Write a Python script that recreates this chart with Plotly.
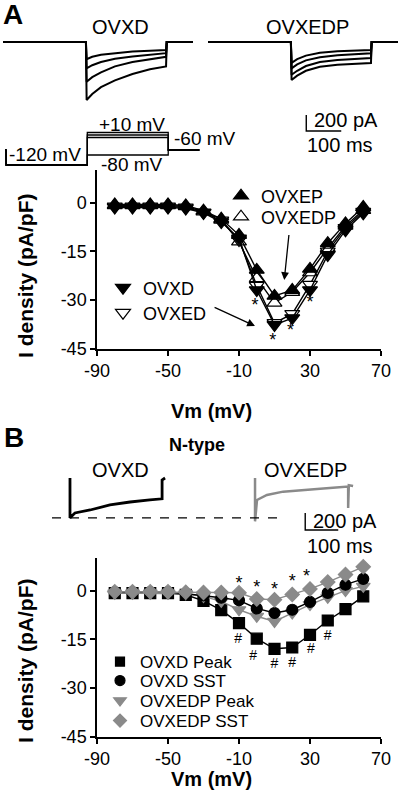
import plotly.graph_objects as go

W, H = 400, 799


def px(x):
    return x / W


def py(y):
    return 1 - y / H


FONT = "Liberation Sans, Arial, Helvetica, sans-serif"
GRAY = "#8a8a8a"

# ---------------- data ----------------
vm = [-80, -70, -60, -50, -40, -30, -20, -10, 0, 10, 20, 30, 40, 50, 60]
x_ticks = [-90, -50, -10, 30, 70]
x_tick_labels = ["-90", "-50", "-10", "30", "70"]
y_ticks = [0, -15, -30, -45]
y_tick_labels = ["0", "-15", "-30", "-45"]

# Panel A (pA/pF)
a_ovxd = [-1.5, -1.5, -1.5, -1.5, -1.8, -3.2, -6.0, -11.0, -26.9, -37.6, -35.5, -26.9, -16.1, -8.5, -3.3]
a_ovxed = [-1.2, -1.2, -1.2, -1.2, -1.5, -3.0, -5.5, -11.5, -25.5, -37.0, -34.2, -25.2, -15.0, -7.8, -2.8]
a_ovxep = [-0.6, -0.6, -0.6, -0.6, -0.9, -2.5, -5.0, -10.0, -20.7, -28.7, -26.9, -20.4, -12.5, -6.4, -1.4]
a_ovxedp = [-0.9, -0.9, -0.9, -0.9, -1.2, -2.8, -5.3, -12.0, -23.3, -30.8, -27.5, -21.5, -14.0, -7.2, -2.3]
a_star_x = [-1, 9, 19, 30]
a_star_y = [-32.0, -42.7, -39.7, -31.0]

# Panel B (pA/pF)
b_ovxd_peak = [-0.8, -0.8, -0.8, -0.8, -1.3, -3.2, -6.0, -10.0, -14.8, -17.9, -17.5, -13.6, -9.2, -5.7, -1.8]
b_ovxd_sst = [-0.5, -0.5, -0.5, -0.5, -1.0, -1.5, -2.2, -3.0, -5.5, -6.9, -5.9, -3.5, -0.7, 1.8, 3.6]
b_ovxedp_peak = [-0.8, -0.8, -0.8, -0.8, -1.0, -1.8, -3.3, -5.9, -7.9, -9.5, -6.9, -4.3, -2.1, 0.0, 1.3]
b_ovxedp_sst = [-0.4, -0.4, -0.4, -0.4, -0.5, -0.6, -0.6, -0.7, -2.6, -2.8, -1.2, 0.5, 2.6, 4.9, 7.3]
b_star_x = [-10, 0, 10, 20, 28]
b_star_y = [1.8, 0.5, 0.0, 2.4, 3.9]
b_hash_x = [-10.5, -2, 10, 20, 30.5, 40]
b_hash_y = [-15.1, -20.2, -22.8, -22.3, -18.2, -14.1]

# Panel A example current traces (time in ms, current in pA)
a_t = [0, 237, 239, 255, 280, 320, 370, 420, 466, 468, 543]
a_ovxd_sweeps = [
    [0, 0, -725, -650, -565, -480, -400, -340, -305, 0, 0],
    [0, 0, -496, -440, -380, -305, -250, -215, -185, 0, 0],
    [0, 0, -330, -290, -250, -210, -180, -160, -140, 0, 0],
    [0, 0, -215, -185, -160, -140, -120, -110, -100, 0, 0],
]
a_ovxedp_sweeps = [
    [0, 0, -475, -420, -360, -310, -285, -270, -263, 0, 0],
    [0, 0, -410, -360, -300, -250, -225, -210, -200, 0, 0],
    [0, 0, -330, -280, -230, -190, -165, -150, -140, 0, 0],
    [0, 0, -260, -215, -170, -135, -115, -105, -100, 0, 0],
]

# Voltage protocol (ms, mV)
prot_t = [0, 3, 3, 235, 235, 466, 466, 555]
prot_steps = [-80, -10, 0, 10]
prot_pre, prot_hold, prot_tail = -60, -120, -60

# Panel B example N-type traces (time in ms from step onset, current in pA)
b_ovxd_t = [0, 0, 2, 15, 61, 121, 182, 242, 276, 279, 279, 288]
b_ovxd_i = [470, 0, 10, 59, 94, 153, 188, 212, 224, 226, 447, 470]
b_ovxedp_t = [0, 0, 6, 36, 85, 136, 188, 236, 282, 282, 284, 297]
b_ovxedp_i = [470, -40, 212, 271, 310, 329, 341, 357, 370, 118, 385, 376]

scale_ms = 100
scale_pA = 200

fig = go.Figure()


def add_series(xax, yax, y, symbol, fill, edge, lcolor, size, name):
    fig.add_trace(go.Scatter(
        x=vm, y=y, mode="lines+markers", xaxis=xax, yaxis=yax, showlegend=False,
        line=dict(color=lcolor, width=1.4),
        marker=dict(symbol=symbol, size=size, color=fill, line=dict(color=edge, width=1.2)),
        name=name, cliponaxis=False))


def add_key(name, legend, xax, yax, symbol, fill, edge, size):
    fig.add_trace(go.Scatter(x=[None], y=[None], mode="markers", name=name, legend=legend,
                             marker=dict(symbol=symbol, size=size, color=fill, line=dict(color=edge, width=1.2)),
                             xaxis=xax, yaxis=yax))


# ---------------- Panel A IV ----------------
add_series("x", "y", a_ovxedp, "triangle-up", "white", "black", "black", 13, "OVXEDP")
add_series("x", "y", a_ovxed, "triangle-down", "white", "black", "black", 13, "OVXED")
add_series("x", "y", a_ovxd, "triangle-down", "black", "black", "black", 13, "OVXD")
add_series("x", "y", a_ovxep, "triangle-up", "black", "black", "black", 13, "OVXEP")

fig.add_trace(go.Scatter(x=a_star_x, y=a_star_y, mode="text", text=["*"] * len(a_star_x),
                         textfont=dict(family=FONT, size=18, color="black"),
                         xaxis="x", yaxis="y", showlegend=False, cliponaxis=False))

add_key("OVXEP", "legend", "x", "y", "triangle-up", "black", "black", 13)
add_key("OVXEDP", "legend2", "x", "y", "triangle-up", "white", "black", 13)
add_key("OVXD", "legend3", "x", "y", "triangle-down", "black", "black", 13)
add_key("OVXED", "legend4", "x", "y", "triangle-down", "white", "black", 13)

# ---------------- Panel B IV ----------------
add_series("x2", "y2", b_ovxd_peak, "square", "black", "black", "black", 11, "OVXD Peak")
add_series("x2", "y2", b_ovxedp_peak, "triangle-down", GRAY, GRAY, GRAY, 12, "OVXEDP Peak")
add_series("x2", "y2", b_ovxd_sst, "circle", "black", "black", "black", 11, "OVXD SST")
add_series("x2", "y2", b_ovxedp_sst, "diamond", GRAY, GRAY, GRAY, 11, "OVXEDP SST")

fig.add_trace(go.Scatter(x=b_star_x, y=b_star_y, mode="text", text=["*"] * len(b_star_x),
                         textfont=dict(family=FONT, size=18, color="black"),
                         xaxis="x2", yaxis="y2", showlegend=False, cliponaxis=False))
fig.add_trace(go.Scatter(x=b_hash_x, y=b_hash_y, mode="text", text=["#"] * len(b_hash_x),
                         textfont=dict(family=FONT, size=14, color="black"),
                         xaxis="x2", yaxis="y2", showlegend=False, cliponaxis=False))

add_key("OVXD Peak", "legend5", "x2", "y2", "square", "black", "black", 9)
add_key("OVXD SST", "legend6", "x2", "y2", "circle", "black", "black", 10)
add_key("OVXEDP Peak", "legend7", "x2", "y2", "triangle-down", GRAY, GRAY, 11)
add_key("OVXEDP SST", "legend8", "x2", "y2", "diamond", GRAY, GRAY, 10)

# ---------------- Panel A recordings ----------------
for sw in a_ovxd_sweeps:
    fig.add_trace(go.Scatter(x=a_t, y=sw, mode="lines", xaxis="x3", yaxis="y3", showlegend=False,
                             line=dict(color="black", width=2), hoverinfo="skip"))
for sw in a_ovxedp_sweeps:
    fig.add_trace(go.Scatter(x=a_t, y=sw, mode="lines", xaxis="x4", yaxis="y3", showlegend=False,
                             line=dict(color="black", width=2), hoverinfo="skip"))
sbA_t0, sbA_i0 = 281, -1112
fig.add_trace(go.Scatter(x=[sbA_t0, sbA_t0, sbA_t0 + scale_ms], y=[sbA_i0 + scale_pA, sbA_i0, sbA_i0],
                         mode="lines", xaxis="x4", yaxis="y3", showlegend=False,
                         line=dict(color="black", width=1.4)))

# ---------------- Voltage protocol ----------------
for vs in prot_steps:
    fig.add_trace(go.Scatter(x=prot_t,
                             y=[prot_pre, prot_pre, prot_hold, prot_hold, vs, vs, prot_tail, prot_tail],
                             mode="lines", xaxis="x5", yaxis="y5", showlegend=False,
                             line=dict(color="black", width=1.3), hoverinfo="skip"))

# ---------------- Panel B recordings ----------------
fig.add_trace(go.Scatter(x=b_ovxd_t, y=b_ovxd_i, mode="lines", xaxis="x6", yaxis="y6", showlegend=False,
                         line=dict(color="black", width=2.8), hoverinfo="skip"))
fig.add_trace(go.Scatter(x=b_ovxedp_t, y=b_ovxedp_i, mode="lines", xaxis="x7", yaxis="y6", showlegend=False,
                         line=dict(color=GRAY, width=2.5), hoverinfo="skip"))
sbB_t0, sbB_i0 = 152, -141
fig.add_trace(go.Scatter(x=[sbB_t0, sbB_t0, sbB_t0 + scale_ms], y=[sbB_i0 + scale_pA, sbB_i0, sbB_i0],
                         mode="lines", xaxis="x7", yaxis="y6", showlegend=False,
                         line=dict(color="black", width=1.4)))

# ---------------- layout ----------------
axis_common = dict(showline=True, linecolor="black", linewidth=1.5, ticks="outside", ticklen=5,
                   tickwidth=1.5, tickcolor="black", showgrid=False, zeroline=False, automargin=False,
                   tickfont=dict(family=FONT, size=18, color="black"), fixedrange=True)
hidden = dict(visible=False, showgrid=False, zeroline=False, fixedrange=True, automargin=False)


def key_legend(text_left, center_y, size):
    return dict(x=px(text_left - 42), y=py(center_y), xanchor="left", yanchor="middle",
                bgcolor="rgba(0,0,0,0)", borderwidth=0,
                font=dict(family=FONT, size=size, color="black"), itemclick=False)


xdom = [px(97), px(381)]
fig.update_layout(
    template="none",
    width=W, height=H, margin=dict(l=0, r=0, t=0, b=0, autoexpand=False),
    paper_bgcolor="white", plot_bgcolor="rgba(0,0,0,0)",
    font=dict(family=FONT, color="black"),
    xaxis=dict(domain=xdom, anchor="y", range=[-90, 70], tickvals=x_ticks, ticktext=x_tick_labels, **axis_common),
    yaxis=dict(domain=[py(349), py(170)], anchor="x", range=[-45, 10], tickvals=y_ticks, ticktext=y_tick_labels, **axis_common),
    xaxis2=dict(domain=xdom, anchor="y2", range=[-90, 70], tickvals=x_ticks, ticktext=x_tick_labels, **axis_common),
    yaxis2=dict(domain=[py(737), py(558)], anchor="x2", range=[-45, 10], tickvals=y_ticks, ticktext=y_tick_labels, **axis_common),
    xaxis3=dict(domain=[px(3), px(193)], anchor="y3", range=[0, 543], **hidden),
    yaxis3=dict(domain=[py(180), py(0)], anchor="x3", range=[-1725, 525], **hidden),
    xaxis4=dict(domain=[px(208), px(400)], anchor="y3", range=[0, 549], **hidden),
    xaxis5=dict(domain=[px(5), px(205)], anchor="y5", range=[0, 571], **hidden),
    yaxis5=dict(domain=[py(170), py(120)], anchor="x5", range=[-140, 60], **hidden),
    xaxis6=dict(domain=[px(52), px(240)], anchor="y6", range=[-54.5, 515], **hidden),
    yaxis6=dict(domain=[py(545), py(455)], anchor="x6", range=[-318, 741], **hidden),
    xaxis7=dict(domain=[px(240), px(400)], anchor="y6", range=[-45.5, 439], **hidden),
    legend=key_legend(263, 196, 18),
    legend2=key_legend(263, 217, 18),
    legend3=key_legend(145, 288, 18),
    legend4=key_legend(145, 313, 18),
    legend5=key_legend(142, 662, 17),
    legend6=key_legend(142, 681, 17),
    legend7=key_legend(142, 701, 17),
    legend8=key_legend(142, 721, 17),
    shapes=[dict(type="line", xref="paper", yref="y6", x0=px(52), x1=px(283), y0=0, y1=0,
                 line=dict(color="black", width=1.3, dash="dash"))],
)

ann = []


def text(x, y, s, size=18, bold=False, anchor="center", angle=0):
    ann.append(dict(x=px(x), y=py(y), xref="paper", yref="paper", text=(f"<b>{s}</b>" if bold else s),
                    showarrow=False, xanchor=anchor, yanchor="middle", textangle=angle,
                    font=dict(family=FONT, size=size, color="black")))


text(1, 14, "A", size=28, bold=True, anchor="left")
text(2, 437, "B", size=28, bold=True, anchor="left")
text(120, 27, "OVXD", size=20)
text(307, 27, "OVXEDP", size=20)
text(312, 120, "200 pA", size=20, anchor="left")
text(305, 145, "100 ms", size=20, anchor="left")
text(132, 124, "+10 mV", size=19)
text(172, 138, "-60 mV", size=19, anchor="left")
text(7, 154, "-120 mV", size=19, anchor="left")
text(99, 165, "-80 mV", size=19, anchor="left")
text(25, 276, "I density (pA/pF)", size=21, bold=True, angle=-90)
text(211, 411, "Vm (mV)", size=20, bold=True)
text(197, 445, "N-type", size=18, bold=True)
text(120, 470, "OVXD", size=20)
text(305, 470, "OVXEDP", size=20)
text(311, 521, "200 pA", size=20, anchor="left")
text(305, 546, "100 ms", size=20, anchor="left")
text(25, 661, "I density (pA/pF)", size=21, bold=True, angle=-90)
text(211, 779, "Vm (mV)", size=20, bold=True)

# arrows in panel A (data coordinates)
for (xh, yh, xt, yt) in [(15.5, -23.8, 18.2, -9.5), (-1.0, -37.9, -24.6, -32.0)]:
    ann.append(dict(x=xh, y=yh, ax=xt, ay=yt, xref="x", yref="y", axref="x", ayref="y",
                    showarrow=True, arrowhead=2, arrowsize=1.2, arrowwidth=1.3, arrowcolor="black", text=""))

fig.update_layout(annotations=ann)
fig.write_html("out.html", config={"displayModeBar": False},
               post_script="document.body.style.margin='0';document.body.style.padding='0';document.body.style.overflow='hidden';")
